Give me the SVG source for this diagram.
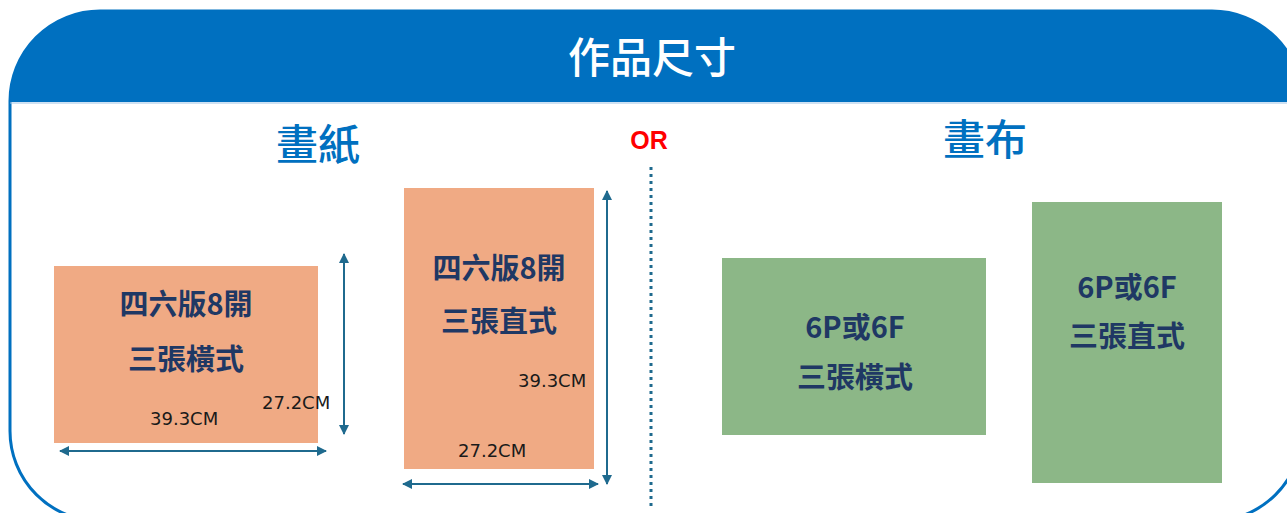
<svg xmlns="http://www.w3.org/2000/svg" width="1287" height="513" viewBox="0 0 1287 513">
<defs>
<style>
.frame{fill:#fff;stroke:#0070C0;stroke-width:3}
.cjk{font-family:"Noto Sans CJK TC","Noto Sans CJK SC",sans-serif}
.lbl{font-family:"Noto Sans CJK TC","Noto Sans CJK SC",sans-serif;font-size:29px;font-weight:700;fill:#1F3864;text-anchor:middle}
.dim{font-family:"DejaVu Sans","Liberation Sans",sans-serif;font-size:18px;fill:#1a1a1a}
.paper{fill:#F0AA84}
.canvas{fill:#8CB787}
.arr{stroke:#1F6A8E;stroke-width:2;fill:none;marker-start:url(#ah);marker-end:url(#ah)}
</style>
<marker id="ah" viewBox="0 0 10 10" refX="9" refY="5" markerWidth="5" markerHeight="5" orient="auto-start-reverse" markerUnits="strokeWidth">
<path d="M0,0 L10,5 L0,10 z" fill="#1F6A8E"/>
</marker>
<clipPath id="fc"><rect x="10" y="11" width="1292" height="510" rx="90" ry="90"/></clipPath>
</defs>
<g id="frame">
<rect class="frame" x="10" y="11" width="1292" height="510" rx="90" ry="90"/>
<rect x="0" y="0" width="1320" height="102" fill="#0070C0" clip-path="url(#fc)"/>
<line x1="10" y1="103" x2="1300" y2="103" stroke="#9DC3E6" stroke-width="1"/>
<text x="652" y="73" class="cjk" font-size="42" font-weight="500" fill="#fff" text-anchor="middle">作品尺寸</text>
</g>
<g id="headings">
<text x="318" y="160" class="cjk" font-size="42" font-weight="500" fill="#0070C0" text-anchor="middle">畫紙</text>
<text x="985" y="155" class="cjk" font-size="42" font-weight="500" fill="#0070C0" text-anchor="middle">畫布</text>
<text x="649" y="149" font-family="Liberation Sans,Arial,sans-serif" font-size="25" font-weight="bold" fill="#FF0000" text-anchor="middle">OR</text>
</g>
<g id="divider">
<line x1="651" y1="167" x2="651" y2="506" stroke="#1F6A8E" stroke-width="3" stroke-dasharray="3 4"/>
</g>
<g id="paper-landscape">
<rect class="paper" x="54" y="266" width="264" height="177"/>
<text class="lbl" x="186" y="315">四六版8開</text>
<text class="lbl" x="186" y="370">三張橫式</text>
<text class="dim" x="262" y="409">27.2CM</text>
<text class="dim" x="150" y="425">39.3CM</text>
</g>
<g id="paper-portrait">
<rect class="paper" x="404" y="188" width="190" height="281"/>
<text class="lbl" x="499" y="279">四六版8開</text>
<text class="lbl" x="499" y="332">三張直式</text>
<text class="dim" x="518" y="387">39.3CM</text>
<text class="dim" x="458" y="457">27.2CM</text>
</g>
<g id="canvas-landscape">
<rect class="canvas" x="722" y="258" width="264" height="177"/>
<text class="lbl" x="855" y="338">6P或6F</text>
<text class="lbl" x="855" y="388">三張橫式</text>
</g>
<g id="canvas-portrait">
<rect class="canvas" x="1032" y="202" width="190" height="281"/>
<text class="lbl" x="1127" y="298">6P或6F</text>
<text class="lbl" x="1127" y="347">三張直式</text>
</g>
<g id="connectors">
<line class="arr" x1="344" y1="254" x2="344" y2="434"/>
<line class="arr" x1="60" y1="451" x2="326" y2="451"/>
<line class="arr" x1="607" y1="191" x2="607" y2="484"/>
<line class="arr" x1="403" y1="484" x2="598" y2="484"/>
</g>
</svg>
